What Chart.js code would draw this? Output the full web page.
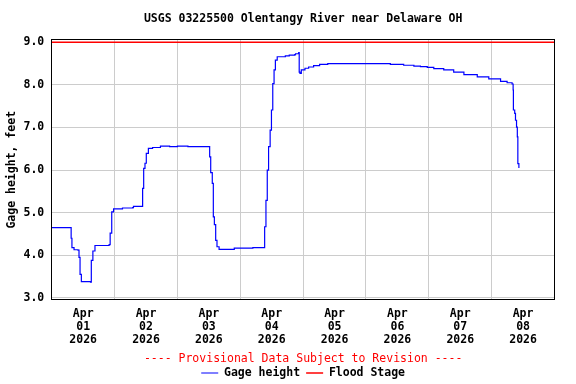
<!DOCTYPE html>
<html>
<head>
<meta charset="utf-8">
<script src="https://cdn.jsdelivr.net/npm/chart.js@4"></script>
<style>
  body { margin: 0; background: #fff; }
</style>
</head>
<body>
<canvas id="gageChart" width="576" height="384"></canvas>
<script>
// hours after Apr 01 2026 00:00 and gage height
const hours = [0, 7.0, 7.4, 7.7, 8.5, 10.0, 10.4, 10.8, 11.3, 14.8, 15.1, 15.7, 16.5, 21.9, 22.3, 22.9, 23.6,
  27.0, 30.9, 31.2, 34.3, 34.7, 35.1, 35.6, 36.1, 36.9, 38.5, 41.5, 45.0, 48.0, 52.0, 59.9,
  60.3, 60.7, 61.3, 61.7, 62.1, 62.6, 63.1, 63.9, 69.5, 69.7, 76.5, 76.8, 80.8,
  81.3, 81.8, 82.3, 82.8, 83.4, 83.9, 84.4, 84.9, 85.4, 86.1, 89.0, 89.2, 90.5, 90.7, 92.8, 93.1, 94.3,
  94.5, 94.8, 95.3, 96.7, 98.1, 100.0, 102.3, 105.4, 128.3, 129.3, 134.4, 138.3, 140.8, 143.4,
  145.9, 149.7, 153.5, 157.4, 162.5, 166.9, 171.4, 173.9, 175.8,
  176.2, 176.3, 176.8, 177.1, 177.5, 177.8, 178.0, 178.4];
const gageHeight = [4.65, 4.65, 4.40, 4.18, 4.13, 4.12, 3.95, 3.55, 3.38, 3.37, 3.88, 4.10, 4.23, 4.25, 4.52, 5.02, 5.09,
  5.11, 5.12, 5.15, 5.15, 5.57, 6.04, 6.16, 6.39, 6.51, 6.53, 6.56, 6.55, 6.56, 6.55, 6.55,
  6.31, 5.94, 5.69, 4.90, 4.72, 4.35, 4.20, 4.14, 4.14, 4.17, 4.17, 4.18, 4.18,
  4.67, 5.29, 6.00, 6.55, 6.94, 7.41, 8.03, 8.35, 8.58, 8.66, 8.66, 8.68, 8.68, 8.70, 8.71, 8.73, 8.76,
  8.30, 8.27, 8.35, 8.39, 8.42, 8.45, 8.48, 8.50, 8.50, 8.48, 8.46, 8.44, 8.43, 8.41,
  8.38, 8.35, 8.30, 8.24, 8.19, 8.14, 8.08, 8.05, 8.02,
  7.88, 7.41, 7.33, 7.17, 7.01, 6.78, 6.15, 6.05];

const floodHours = [0, 192];
const floodStage = [9.0, 9.0];

const tickHours = [12, 36, 60, 84, 108, 132, 156, 180];
const tickDays = ['01', '02', '03', '04', '05', '06', '07', '08'];
const tickMonth = 'Apr';
const tickYear = '2026';
const yTicks = [3, 4, 5, 6, 7, 8, 9];

Chart.defaults.font.family = "'DejaVu Sans Mono', monospace";
Chart.defaults.font.size = 11.5;
Chart.defaults.font.weight = 'bold';
Chart.defaults.color = '#000';

// black box round the plot area
const plotFrame = {
  id: 'plotFrame',
  afterDraw(chart) {
    const { ctx, chartArea: a } = chart;
    const l = Math.round(a.left) - 0.5, t = Math.round(a.top) - 0.5;
    const r = Math.round(a.right) - 0.5, b = Math.round(a.bottom) - 0.5;
    ctx.save();
    ctx.strokeStyle = '#000';
    ctx.lineWidth = 1;
    ctx.strokeRect(l, t, r - l, b - t);
    ctx.restore();
  }
};

new Chart(document.getElementById('gageChart'), {
  type: 'line',
  data: {
    datasets: [{
      label: 'Gage height',
      data: hours.map((h, i) => ({ x: h, y: gageHeight[i] })),
      borderColor: '#0000ff',
      borderWidth: 1.2,
      pointRadius: 0,
      stepped: true,
      fill: false
    }, {
      label: 'Flood Stage',
      data: floodHours.map((h, i) => ({ x: h, y: floodStage[i] })),
      borderColor: '#ff0000',
      borderWidth: 1.5,
      pointRadius: 0,
      fill: false
    }]
  },
  options: {
    responsive: false,
    animation: false,
    layout: { padding: { top: 0, right: 21.5, bottom: -4.75, left: 0 } },
    scales: {
      x: {
        type: 'linear',
        min: 0,
        max: 192,
        afterBuildTicks: axis => { axis.ticks = tickHours.map(v => ({ value: v })); },
        ticks: {
          autoSkip: false,
          maxRotation: 0,
          padding: 8,
          font: { lineHeight: 1.13 },
          callback: (v, i) => [tickMonth, tickDays[i], tickYear]
        },
        grid: { offset: true, color: '#cccccc', drawTicks: false },
        border: { display: false }
      },
      y: {
        min: 2.95,
        max: 9.065,
        afterBuildTicks: axis => { axis.ticks = yTicks.map(v => ({ value: v })); },
        ticks: { padding: 7.5, callback: v => v.toFixed(1) },
        grid: { color: '#cccccc', drawTicks: false },
        border: { display: false },
        title: {
          display: true,
          text: 'Gage height, feet',
          font: { lineHeight: '8px' },
          padding: { top: 8, bottom: 0 }
        }
      }
    },
    plugins: {
      title: {
        display: true,
        text: 'USGS 03225500 Olentangy River near Delaware OH',
        fullSize: false,
        padding: { top: 12, bottom: 13.7 }
      },
      subtitle: {
        display: true,
        text: '---- Provisional Data Subject to Revision ----',
        color: '#ff0000',
        position: 'bottom',
        weight: 500,
        fullSize: false,
        font: { lineHeight: '4.5px' },
        padding: { top: 1.75, bottom: 0 }
      },
      legend: {
        position: 'bottom',
        fullSize: false,
        labels: {
          usePointStyle: true,
          pointStyle: 'line',
          pointStyleWidth: 17,
          padding: 6,
          color: '#000'
        }
      },
      tooltip: { enabled: false }
    }
  },
  plugins: [plotFrame]
});
</script>
</body>
</html>
